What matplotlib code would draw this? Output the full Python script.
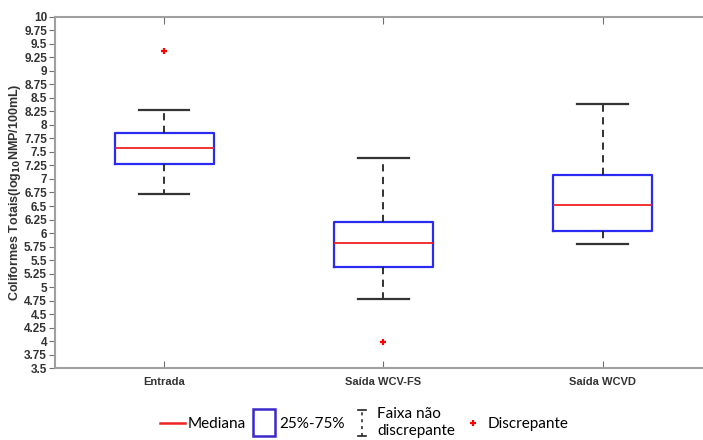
import numpy as np
import matplotlib
matplotlib.use('Agg')
import matplotlib.pyplot as plt
from matplotlib.lines import Line2D
from matplotlib.patches import Rectangle
from matplotlib.legend_handler import HandlerBase

# values
groups = ['Entrada', 'Saída WCV-FS', 'Saída WCVD']
q1 = [7.28, 5.37, 6.04]
med = [7.57, 5.81, 6.52]
q3 = [7.85, 6.20, 7.07]
whislo = [6.72, 4.79, 5.80]
whishi = [8.28, 7.38, 8.39]
outliers = [[9.37], [3.99], []]
yticks = np.arange(3.5, 10.01, 0.25)

plt.rcParams['font.family'] = ['Liberation Sans', 'DejaVu Sans']

fig = plt.figure(figsize=(7.03, 4.40), dpi=100)
ax = fig.add_axes([0.0778, 0.163, 0.9354, 0.799])

stats = []
for i, g in enumerate(groups):
    stats.append(dict(label=g, q1=q1[i], med=med[i], q3=q3[i],
                      whislo=whislo[i], whishi=whishi[i], fliers=outliers[i]))

ax.bxp(stats, positions=[1, 2, 3], widths=0.45, capwidths=0.23,
       boxprops=dict(color='#2a2af0', linewidth=1.6),
       medianprops=dict(color='#ee2222', linewidth=1.3),
       whiskerprops=dict(color='#222222', linewidth=1.3, linestyle=(0, (4, 3))),
       capprops=dict(color='#333333', linewidth=1.6),
       flierprops=dict(marker='+', markeredgecolor='red', markersize=4, markeredgewidth=1.6))

ax.set_xlim(0.5, 3.5)
ax.set_ylim(3.5, 10)
ax.set_yticks(yticks)
ax.set_yticklabels([f'{t:g}' for t in yticks], fontsize=8.5, fontweight='bold', color='#333333')
ax.set_xticks([1, 2, 3])
ax.set_xticklabels(groups, fontsize=8, fontweight='bold', color='#333333')

for side in ['left', 'top', 'bottom']:
    ax.spines[side].set_color('#a0a0a0')
    ax.spines[side].set_linewidth(1.5)
ax.spines['right'].set_visible(False)
ax.tick_params(axis='y', direction='out', length=4, width=0.8, color='#707070', pad=1.5)
ax.tick_params(axis='x', direction='in', length=5, width=0.8, color='#707070', pad=6,
               top=True)

ax.set_ylabel('Coliformes Totais(log$_{\\mathbf{10}}$NMP/100mL)', fontsize=9,
              fontweight='bold', color='#333333', labelpad=1)


class BoxHandler(HandlerBase):
    def create_artists(self, legend, orig_handle, xdescent, ydescent, width, height, fontsize, trans):
        w = fontsize * 1.45
        h = fontsize * 1.8
        r = Rectangle((width / 2 - w / 2 - xdescent, -ydescent + height / 2 - h / 2), w, h,
                      facecolor='none', edgecolor='#3a28c8', linewidth=1.8, transform=trans)
        return [r]


class WhiskerHandler(HandlerBase):
    def create_artists(self, legend, orig_handle, xdescent, ydescent, width, height, fontsize, trans):
        cx = width * 0.5 - xdescent
        h = fontsize * 1.7
        y0 = -ydescent + height / 2 - h / 2
        y1 = y0 + h
        cw = fontsize * 0.25
        v = Line2D([cx, cx], [y0, y1], color='#222222', linewidth=1.1,
                   linestyle=(0, (2, 2.5)), transform=trans)
        c1 = Line2D([cx - cw, cx + cw], [y1, y1], color='#222222', linewidth=1.2, transform=trans)
        c2 = Line2D([cx - cw, cx + cw], [y0, y0], color='#222222', linewidth=1.2, transform=trans)
        return [v, c1, c2]


med_h = Line2D([], [], color='#ee2222', linewidth=1.8)
box_h = Rectangle((0, 0), 1, 1)
whi_h = Line2D([], [], color='black')
out_h = Line2D([], [], marker='+', color='red', linestyle='none', markersize=4, markeredgewidth=1.6)

fig.legend([med_h, box_h, whi_h, out_h],
           ['Mediana', '25%-75%', 'Faixa não\ndiscrepante', 'Discrepante'],
           handler_map={box_h: BoxHandler(), whi_h: WhiskerHandler()},
           loc='center', bbox_to_anchor=(0.518, 0.04), ncol=4, frameon=False,
           prop={'family': 'Lato', 'size': 11}, handlelength=1.7, handletextpad=0.15,
           columnspacing=0.3, labelspacing=0.05)

fig.savefig('out.png', dpi=100)
